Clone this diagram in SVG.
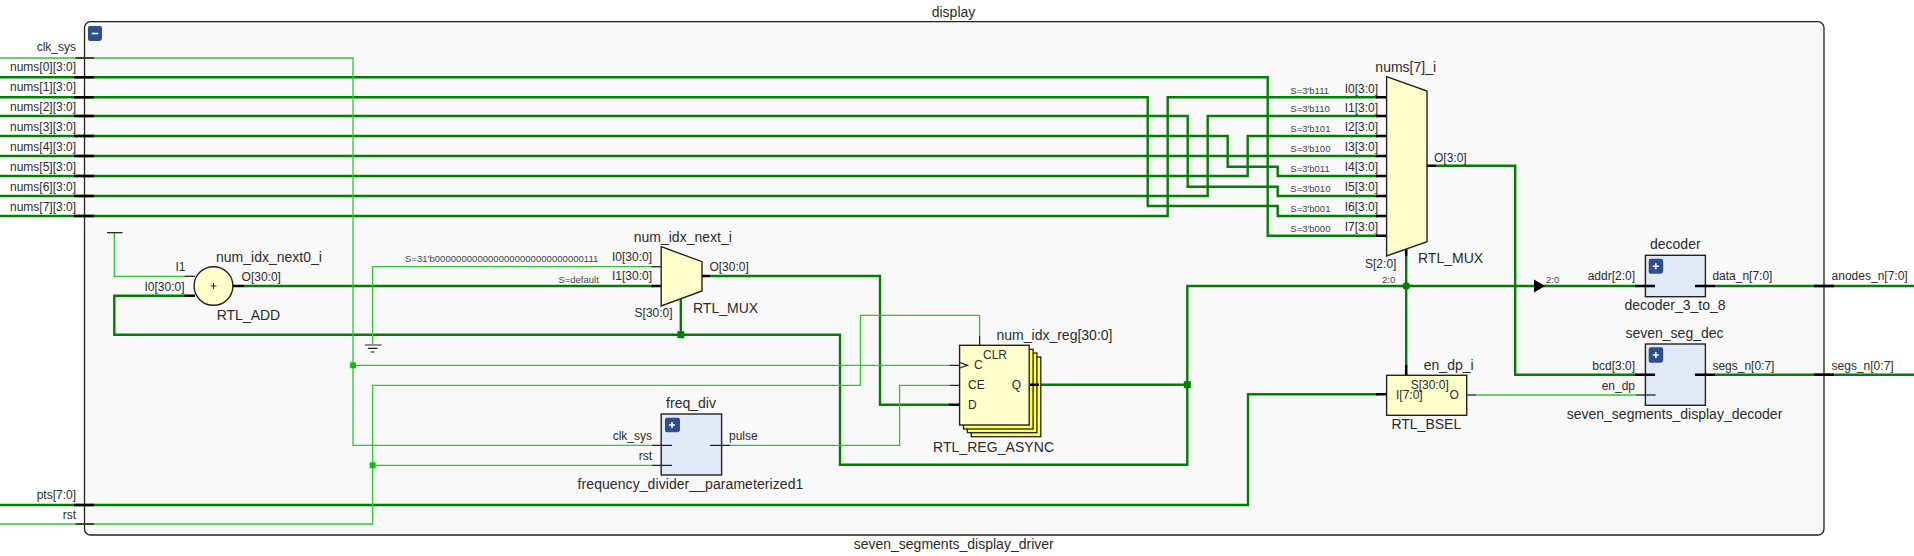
<svg xmlns="http://www.w3.org/2000/svg" width="1914" height="556" viewBox="0 0 1914 556">
<style>
text{font-family:"Liberation Sans",Arial,sans-serif;fill:#2b2b2b}
.p{font-size:12px}
.n{font-size:14px}
.s{font-size:9.5px;fill:#444}
.e{text-anchor:end}
.m{text-anchor:middle}
.bus{fill:none;stroke:#008000;stroke-width:2.4}
.net{fill:none;stroke:#2ec82e;stroke-width:1.3}
.bs{stroke:#000;stroke-width:2.6;fill:none}
.ts{stroke:#222;stroke-width:1.3;fill:none}
.prim{fill:#ffffcc;stroke:#222;stroke-width:1.4}
.hier{fill:#dfe9f8;stroke:#222;stroke-width:1.4}
.btn{fill:#2f4f8c}
.sym{stroke:#fff;stroke-width:1.6;fill:none}
.jb{fill:#008000}
.jn{fill:#10c010}
</style>
<g id="frame">
<rect x="84.5" y="21.7" width="1739.500" height="513.3" rx="6" fill="#f9f9f9" stroke="#222" stroke-width="1.3"/>
<path id="frame-collapse" class="btn" d="M90 26h10a2 2 0 0 1 2 2v10a3 3 0 0 1-3 3h-9a2 2 0 0 1-2-2v-11a2 2 0 0 1 2-2z"/>
<path class="sym" d="M91.800 33.500h6.400"/>
<text class="n m" x="953.500" y="17">display</text>
<text class="n m" x="953.700" y="549">seven_segments_display_driver</text>
</g>
<g id="connectors">
<g id="bus-nets">
<path class="bus" d="M0 77.300H1267.700V235.700H1378"/>
<path class="bus" d="M0 97.300H1147.700V206H1277.700V216H1378"/>
<path class="bus" d="M0 116H1187.700V186.700H1277.700V196H1378"/>
<path class="bus" d="M0 136H1227.700V166.700H1277.700V176H1378"/>
<path class="bus" d="M0 156H1378"/>
<path class="bus" d="M0 176H1247.700V136H1378"/>
<path class="bus" d="M0 196H1207.700V116H1378"/>
<path class="bus" d="M0 216H1167.700V97.300H1378"/>
<path class="bus" d="M0 505H1248V394.300H1378"/>
<path class="bus" d="M244 286H653"/>
<path class="bus" d="M710 276H880V404.700H950"/>
<path class="bus" d="M186 295.700H114.300V334.700H840V464.700H1187.300V286H1636"/>
<path class="bus" d="M1039 384.700H1187.300"/>
<path class="bus" d="M680.800 297.700V334.700"/>
<path class="bus" d="M1406.200 256V366"/>
<path class="bus" d="M1436 165.700H1515.200V374.700H1636"/>
<path class="bus" d="M1715 286H1914"/>
<path class="bus" d="M1715 374.700H1914"/>
</g>
<g id="bit-nets">
<path class="net" d="M0 58H353V445.300H652"/>
<path class="net" d="M353 365.300H950"/>
<path class="net" d="M652 266.700H372.600V344"/>
<path class="net" d="M184.500 276.300H114.300V233"/>
<path class="net" d="M0 524H372.600V385.300H860.400V315.300H979.600V336"/>
<path class="net" d="M372.600 465.300H652"/>
<path class="net" d="M730 445.300H899.600V385.300H950"/>
<path class="net" d="M1476 395H1637"/>
</g>
<g id="junctions">
<rect class="jn" x="350" y="362.300" width="6" height="6"/>
<rect class="jn" x="369.600" y="462.300" width="6" height="6"/>
<rect class="jb" x="677.300" y="331.200" width="7" height="7"/>
<rect class="jb" x="1183.800" y="381.200" width="7" height="7"/>
<circle class="jb" cx="1406.200" cy="286" r="3.800"/>
</g>
<g id="port-stubs">
<path class="ts" d="M75.500 58H94M75.500 524H94"/>
<path class="bs" d="M74 77.300H94M74 97.300H94M74 116H94M74 136H94M74 156H94M74 176H94M74 196H94M74 216H94M74 505H94"/>
<path class="bs" d="M1814 286H1834M1814 374.700H1834"/>
</g>
<polygon id="bus-arrow" points="1534,279.500 1545,286 1534,292.500" fill="#000"/>
<text class="s" x="1382" y="283">2:0</text>
<text class="s" x="1546" y="283">2:0</text>
</g>
<g id="port-labels">
<text class="p e" x="76" y="51">clk_sys</text>
<text class="p e" x="76" y="71">nums[0][3:0]</text>
<text class="p e" x="76" y="91">nums[1][3:0]</text>
<text class="p e" x="76" y="111">nums[2][3:0]</text>
<text class="p e" x="76" y="131">nums[3][3:0]</text>
<text class="p e" x="76" y="151">nums[4][3:0]</text>
<text class="p e" x="76" y="171">nums[5][3:0]</text>
<text class="p e" x="76" y="191">nums[6][3:0]</text>
<text class="p e" x="76" y="211">nums[7][3:0]</text>
<text class="p e" x="76" y="499">pts[7:0]</text>
<text class="p e" x="76" y="519">rst</text>
<text class="p" x="1831.600" y="280">anodes_n[7:0]</text>
<text class="p" x="1831.600" y="370">segs_n[0:7]</text>
</g>
<g id="num_idx_next0_i">
<path class="ts" d="M107 232.700H122.500"/>
<path class="bs" d="M184.500 295.700H195M233 286H244"/>
<path class="ts" d="M184.500 276.300H195"/>
<ellipse class="prim" cx="213.500" cy="286" rx="19.400" ry="19.300"/>
<path d="M210.500 286h6M213.500 283v6" stroke="#222" stroke-width="1"/>
<text class="n" x="216" y="262">num_idx_next0_i</text>
<text class="p" x="175.500" y="271">I1</text>
<text class="p e" x="184.500" y="291">I0[30:0]</text>
<text class="p" x="241.600" y="281">O[30:0]</text>
<text class="n" x="216.700" y="320">RTL_ADD</text>
</g>
<g id="gnd">
<path d="M365 345H381.600M368 348.300H377.500M370.600 352H374.700" stroke="#222" stroke-width="1.2" fill="none"/>
</g>
<g id="num_idx_next_i">
<path class="ts" d="M651.400 266.700H661"/>
<path class="bs" d="M651.400 286H661M702 276H710M680.800 297.700V290"/>
<polygon class="prim" points="661.200,246.700 702,261.700 702,291 661.200,306"/>
<text class="n e" x="731.800" y="242">num_idx_next_i</text>
<text class="s" x="405" y="262" textLength="193.400">S=31'b0000000000000000000000000000111</text>
<text class="s e" x="598.800" y="283">S=default</text>
<text class="p e" x="652" y="261">I0[30:0]</text>
<text class="p e" x="652" y="280">I1[30:0]</text>
<text class="p" x="709.400" y="271">O[30:0]</text>
<text class="p e" x="672.600" y="317">S[30:0]</text>
<text class="n" x="693" y="313">RTL_MUX</text>
</g>
<g id="num_idx_reg">
<rect x="971.200" y="357" width="69.600" height="79.700" fill="#ffff55" stroke="#222" stroke-width="1.3"/>
<rect x="967.300" y="353" width="69.600" height="79.700" fill="#ffff55" stroke="#222" stroke-width="1.3"/>
<rect x="963.500" y="349.300" width="69.600" height="79.700" fill="#ffff55" stroke="#222" stroke-width="1.3"/>
<rect class="prim" x="959.600" y="345.300" width="69.600" height="79.700"/>
<path class="ts" d="M979.600 336V345.300M950 365.300H960M950 385.300H960"/>
<path class="bs" d="M949 404.700H960M1030 384.700H1039"/>
<path class="ts" d="M960 362.500L967.500 365.300L960 368"/>
<text class="n" x="996.500" y="340">num_idx_reg[30:0]</text>
<text class="p" x="983" y="359">CLR</text>
<text class="p" x="974" y="369">C</text>
<text class="p" x="968" y="389">CE</text>
<text class="p" x="968" y="409">D</text>
<text class="p e" x="1021" y="389">Q</text>
<text class="n" x="933" y="451.500" textLength="121">RTL_REG_ASYNC</text>
</g>
<g id="freq_div">
<rect class="hier" x="661.200" y="414" width="60.400" height="61"/>
<path class="ts" d="M652 445.300H672M652 465.300H672M710 445.300H730"/>
<path class="btn" d="M667 417.700h11a2 2 0 0 1 2 2v9.500a3 3 0 0 1-3 3h-10a2 2 0 0 1-2-2v-10.500a2 2 0 0 1 2-2z"/>
<path class="sym" d="M669 425h6M672 422v6"/>
<text class="n m" x="691" y="408">freq_div</text>
<text class="p e" x="652" y="440">clk_sys</text>
<text class="p e" x="652" y="460">rst</text>
<text class="p" x="729" y="440">pulse</text>
<text class="n" x="577.600" y="489" textLength="225.700">frequency_divider__parameterized1</text>
</g>
<g id="nums_7_i">
<path class="bs" d="M1376 97.300H1387M1376 116H1387M1376 136H1387M1376 156H1387M1376 176H1387M1376 196H1387M1376 216H1387M1376 235.700H1387M1427 165.700H1436M1406.200 248V256"/>
<polygon class="prim" points="1386.600,76.700 1427,91 1427,241.700 1386.600,256"/>
<text class="n m" x="1405.700" y="72">nums[7]_i</text>
<text class="s" x="1290.300" y="93.500">S=3'b111</text>
<text class="s" x="1290.300" y="112">S=3'b110</text>
<text class="s" x="1290.300" y="132">S=3'b101</text>
<text class="s" x="1290.300" y="152">S=3'b100</text>
<text class="s" x="1290.300" y="172">S=3'b011</text>
<text class="s" x="1290.300" y="192">S=3'b010</text>
<text class="s" x="1290.300" y="212">S=3'b001</text>
<text class="s" x="1290.300" y="232">S=3'b000</text>
<text class="p e" x="1378" y="93">I0[3:0]</text>
<text class="p e" x="1378" y="111.500">I1[3:0]</text>
<text class="p e" x="1378" y="131">I2[3:0]</text>
<text class="p e" x="1378" y="151">I3[3:0]</text>
<text class="p e" x="1378" y="171">I4[3:0]</text>
<text class="p e" x="1378" y="191">I5[3:0]</text>
<text class="p e" x="1378" y="211">I6[3:0]</text>
<text class="p e" x="1378" y="231">I7[3:0]</text>
<text class="p" x="1434" y="161.500">O[3:0]</text>
<text class="p e" x="1396.400" y="267.500">S[2:0]</text>
<text class="n" x="1418" y="263">RTL_MUX</text>
</g>
<g id="decoder">
<rect class="hier" x="1645.400" y="255.300" width="60" height="41.400"/>
<path class="bs" d="M1635 286H1655M1695 286H1715"/>
<path class="btn" d="M1650.700 258.700h10.500a2 2 0 0 1 2 2v10a3 3 0 0 1-3 3h-9.500a2 2 0 0 1-2-2v-11a2 2 0 0 1 2-2z"/>
<path class="sym" d="M1652.800 266.300h6M1655.800 263.300v6"/>
<text class="n m" x="1675.300" y="249">decoder</text>
<text class="p e" x="1635" y="280">addr[2:0]</text>
<text class="p" x="1712.400" y="280">data_n[7:0]</text>
<text class="n m" x="1675" y="310">decoder_3_to_8</text>
</g>
<g id="seven_seg_dec">
<rect class="hier" x="1645.400" y="344" width="60" height="61.300"/>
<path class="bs" d="M1635 374.700H1655M1695 374.700H1715"/>
<path class="ts" d="M1636.400 395H1655.600"/>
<path class="btn" d="M1650.700 347.300h10.500a2 2 0 0 1 2 2v10.400a3 3 0 0 1-3 3h-9.500a2 2 0 0 1-2-2v-11.400a2 2 0 0 1 2-2z"/>
<path class="sym" d="M1652.800 355h6M1655.800 352v6"/>
<text class="n m" x="1674.500" y="338">seven_seg_dec</text>
<text class="p e" x="1635" y="370">bcd[3:0]</text>
<text class="p e" x="1635" y="390">en_dp</text>
<text class="p" x="1712.400" y="370">segs_n[0:7]</text>
<text class="n m" x="1674.500" y="419">seven_segments_display_decoder</text>
</g>
<g id="en_dp_i">
<path class="bs" d="M1376 394.300H1387M1406.200 365V375.300"/>
<path class="ts" d="M1466.700 395H1476"/>
<rect class="prim" x="1386.600" y="375.300" width="80.100" height="40"/>
<text class="n" x="1423.800" y="370">en_dp_i</text>
<text class="p" x="1410.700" y="389">S[30:0]</text>
<text class="p" x="1396" y="399">I[7:0]</text>
<text class="p" x="1449.500" y="399">O</text>
<text class="n m" x="1426.300" y="429">RTL_BSEL</text>
</g>
</svg>
